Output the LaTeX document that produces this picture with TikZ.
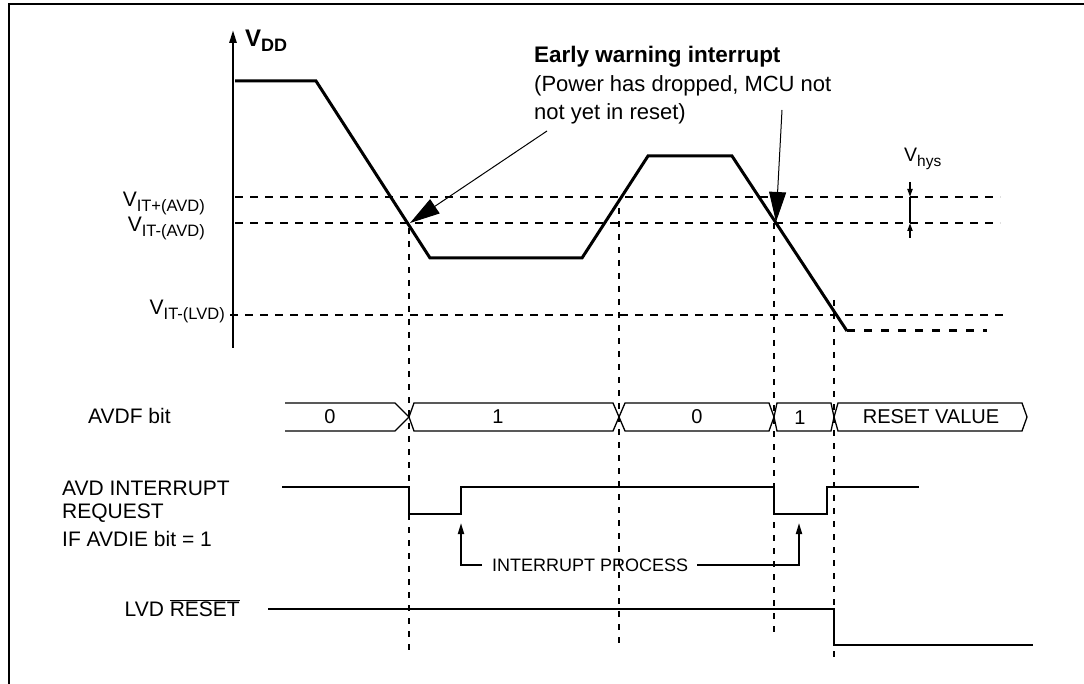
\documentclass[tikz,border=0pt]{standalone}
\usepackage{fontspec}
\setmainfont{Liberation Sans}
\usetikzlibrary{arrows.meta}

\newcommand\vsub[2]{#1{\fontsize{16.5}{16.5}\selectfont\raisebox{-4.5pt}{#2}}}

\tikzset{
  wave/.style={line width=3pt},
  level/.style={line width=1.8pt, dash pattern=on 8pt off 7pt},
  guide/.style={line width=1.8pt, dash pattern=on 6pt off 7pt},
  signal/.style={line width=2.3pt},
  bus/.style={line width=1.3pt},
  lbl/.style={font=\fontsize{21}{24}\selectfont, inner sep=0pt},
  note/.style={line width=1pt, -{Triangle[length=30pt,width=17pt]}},
  small tip/.style={line width=1.8pt, -{Triangle[length=11pt,width=6pt]}},
}

\begin{document}
\begin{tikzpicture}[x=1pt,y=-1pt]
\useasboundingbox (0,0) rectangle (1084,684);
\draw[line width=2.5pt] (9,684) -- (9,4) -- (1084,4);

% supply axis
\draw[line width=2.5pt,-{Triangle[length=13pt,width=7pt]}] (233,348) -- (233,30);
\node[anchor=base west,inner sep=0pt,font=\bfseries\fontsize{24}{26}\selectfont] (vdd) at (245,47) {V\raisebox{-5pt}{\fontsize{18}{18}\selectfont DD}};

% thresholds
\draw[level] (235,197) -- (1000,197);
\draw[level] (235,223) -- (1000,223);
\draw[level] (230,315) -- (1005,315);
\node[lbl,anchor=base east] (vitp) at (205,207) {\vsub{V}{IT+(AVD)}};
\node[lbl,anchor=base east] (vitm) at (205,232) {\vsub{V}{IT-(AVD)}};
\node[lbl,anchor=base east] (vlvd) at (225,315) {\vsub{V}{IT-(LVD)}};

% supply curve
\draw[wave] (235,81) -- (316,81) -- (430,258) -- (582,258) -- (648,156) -- (732,156) -- (847,331);
\draw[wave, dash pattern=on 8pt off 9pt] (847,331) -- (987,331);

% guides
\draw[guide] (409,228) -- (409,653);
\draw[guide] (619,208) -- (619,645);
\draw[guide] (774,223) -- (774,633);
\draw[guide] (834,300) -- (834,661);

% hysteresis
\draw[line width=1.8pt] (910,197) -- (910,223);
\draw[line width=1.8pt,-{Triangle[length=8pt,width=5pt]}] (910,182) -- (910,197);
\draw[line width=1.8pt,-{Triangle[length=8pt,width=5pt]}] (910,238) -- (910,223);
\node[font=\fontsize{19.5}{22}\selectfont, inner sep=0pt, anchor=base west] (vhys) at (904,162) {V{\fontsize{15.5}{15.5}\selectfont\raisebox{-5pt}{hys}}};

% early warning note
\node[lbl,font=\bfseries\fontsize{22.5}{24}\selectfont,anchor=base west] (warn1) at (534,63) {Early warning interrupt};
\node[lbl,font=\fontsize{22}{24}\selectfont,anchor=base west] (warn2) at (534,92) {(Power has dropped, MCU not};
\node[lbl,font=\fontsize{22}{24}\selectfont,anchor=base west] (warn3) at (534,120) {not yet in reset)};
\coordinate (fromA) at (547,131);
\coordinate (tipA) at (410,223);
\coordinate (fromB) at (782,110);
\coordinate (tipB) at (776,222);
\draw[note] (fromA) -- (tipA);
\draw[note] (fromB) -- (tipB);

% AVDF bit
\node[lbl,anchor=west] (avdf) at (88,416) {AVDF bit};
\draw[bus] (285,403) -- (395,403) -- (409,417) -- (395,431) -- (285,431);
\draw[bus] (409,417) -- (414,403) -- (613,403) -- (619,417) -- (613,431) -- (414,431) -- cycle;
\draw[bus] (619,417) -- (625,403) -- (769,403) -- (774,417) -- (769,431) -- (625,431) -- cycle;
\draw[bus] (774,417) -- (777,403) -- (831,403) -- (834,417) -- (831,431) -- (777,431) -- cycle;
\draw[bus] (834,417) -- (838,403) -- (1022,403) -- (1027,417) -- (1022,431) -- (838,431) -- cycle;
\node[lbl,font=\fontsize{20}{24}\selectfont] (b0) at (330,417) {0};
\node[lbl,font=\fontsize{20}{24}\selectfont] (b1) at (498,417) {1};
\node[lbl,font=\fontsize{20}{24}\selectfont] (b2) at (697,417) {0};
\node[lbl,font=\fontsize{20}{24}\selectfont] (b3) at (800,418) {1};
\node[lbl,font=\fontsize{20}{24}\selectfont] (b4) at (931,417) {RESET VALUE};

% interrupt request
\node[lbl,anchor=base west] (req1) at (62,495) {AVD INTERRUPT};
\node[lbl,anchor=base west] (req2) at (62,518) {REQUEST};
\node[lbl,anchor=base west] (req3) at (62,546) {IF AVDIE bit = 1};
\draw[signal] (282,487) -- (409,487) -- (409,514) -- (461,514) -- (461,487) -- (774,487) -- (774,514) -- (827,514) -- (827,487) -- (919,487);

\node[font=\fontsize{18}{20}\selectfont, inner sep=0pt, anchor=west] (proc) at (492,565) {INTERRUPT PROCESS};
\draw[small tip] ([xshift=-10pt]proc.west) -| (461,523);
\draw[small tip] ([xshift=9pt]proc.east) -| (799,523);

% LVD reset
\node[lbl,anchor=base east] (lvd) at (240,616) {LVD $\overline{\mbox{RESET}}$};
\draw[signal] (268,609) -- (834,609) -- (834,645) -- (1033,645);
\end{tikzpicture}
\end{document}
